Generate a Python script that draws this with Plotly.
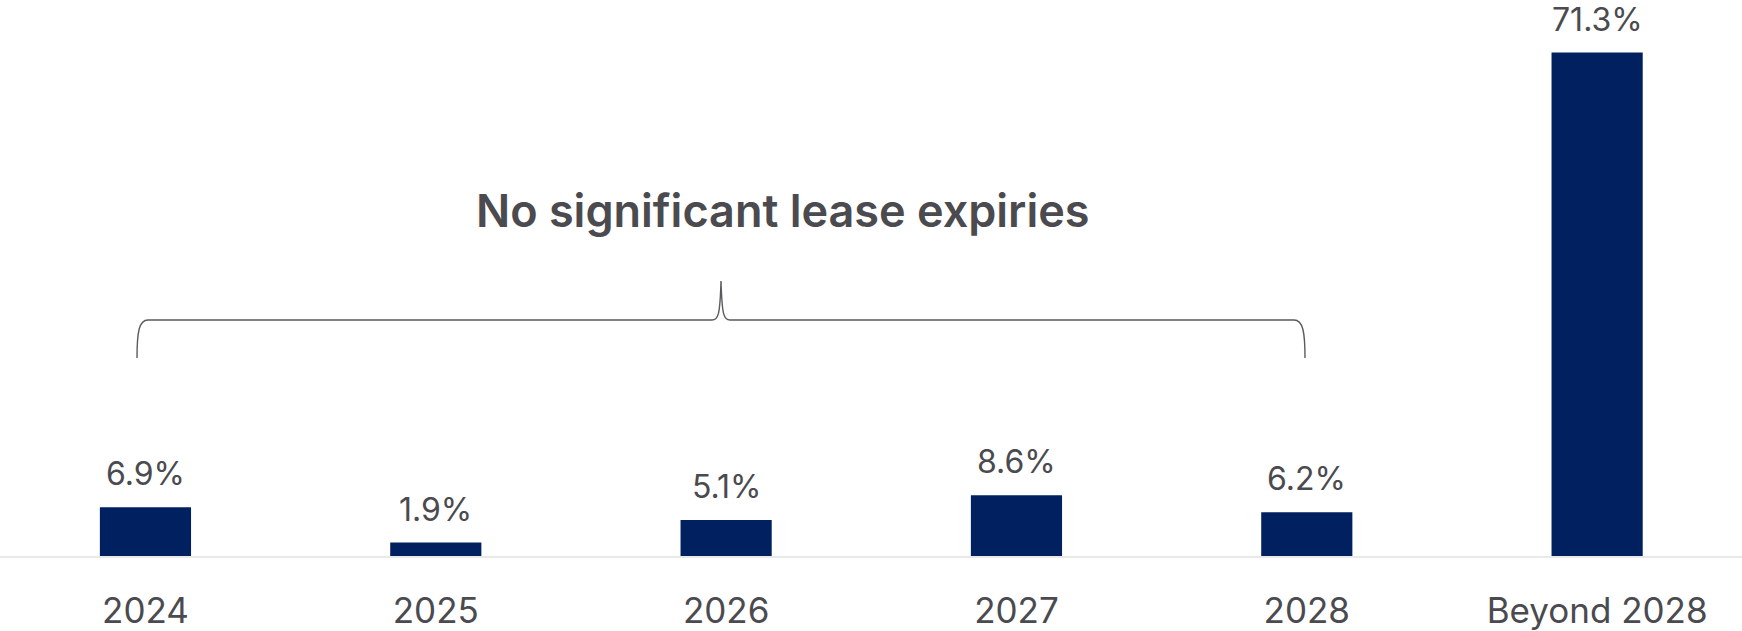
import plotly.graph_objects as go

categories = ["2024", "2025", "2026", "2027", "2028", "Beyond 2028"]
values = [6.9, 1.9, 5.1, 8.6, 6.2, 71.3]
labels = ["6.9%", "1.9%", "5.1%", "8.6%", "6.2%", "71.3%"]
title_text = "No significant lease expiries"

W, H = 1742, 631
PLOT_H = 556
BAR = "#002060"
TXT = "#4a4a4f"
FONT = "Inter"

fig = go.Figure()
fig.add_trace(go.Bar(x=categories, y=values, marker=dict(color=BAR, line=dict(width=0)),
                     hoverinfo="skip"))

for i, (v, t) in enumerate(zip(values, labels)):
    fig.add_annotation(x=i, y=v, text=t, showarrow=False, yanchor="bottom",
                       yshift=12, font=dict(family=FONT, size=32, color=TXT))

def px(x, y):
    return x / W, (PLOT_H - y) / PLOT_H

def P(x, y):
    a, b = px(x, y)
    return f"{a:.5f},{b:.5f}"

path = (f"M {P(137,358)} C {P(137,332)} {P(139,320)} {P(148,320)} "
        f"L {P(712,320)} C {P(718,320)} {P(720,316)} {P(721,281)} "
        f"C {P(722,316)} {P(724,320)} {P(730,320)} "
        f"L {P(1294,320)} C {P(1303,320)} {P(1305,332)} {P(1305,358)}")
fig.add_shape(type="path", path=path, xref="paper", yref="paper",
              line=dict(color="#5a5a5e", width=1.4))

tx, ty = px(783, 211)
fig.add_annotation(x=tx, y=ty, xref="paper", yref="paper", text=title_text,
                   showarrow=False, xanchor="center", yanchor="middle",
                   font=dict(family=FONT, size=45, color=TXT, weight=600))

fig.update_layout(
    width=W, height=H,
    margin=dict(l=0, r=0, t=0, b=H - PLOT_H, autoexpand=False),
    paper_bgcolor="white", plot_bgcolor="white",
    bargap=0.686, showlegend=False,
    xaxis=dict(type="category", range=[-0.501, 5.499], showgrid=False, zeroline=False,
               showline=True, linecolor="#e9e9e9", linewidth=2, automargin=False,
               ticks="outside", ticklen=23, tickcolor="rgba(0,0,0,0)",
               tickfont=dict(family=FONT, size=35, color=TXT)),
    yaxis=dict(range=[0, 78.75], visible=False, automargin=False),
)

fig.write_html("out.html")
